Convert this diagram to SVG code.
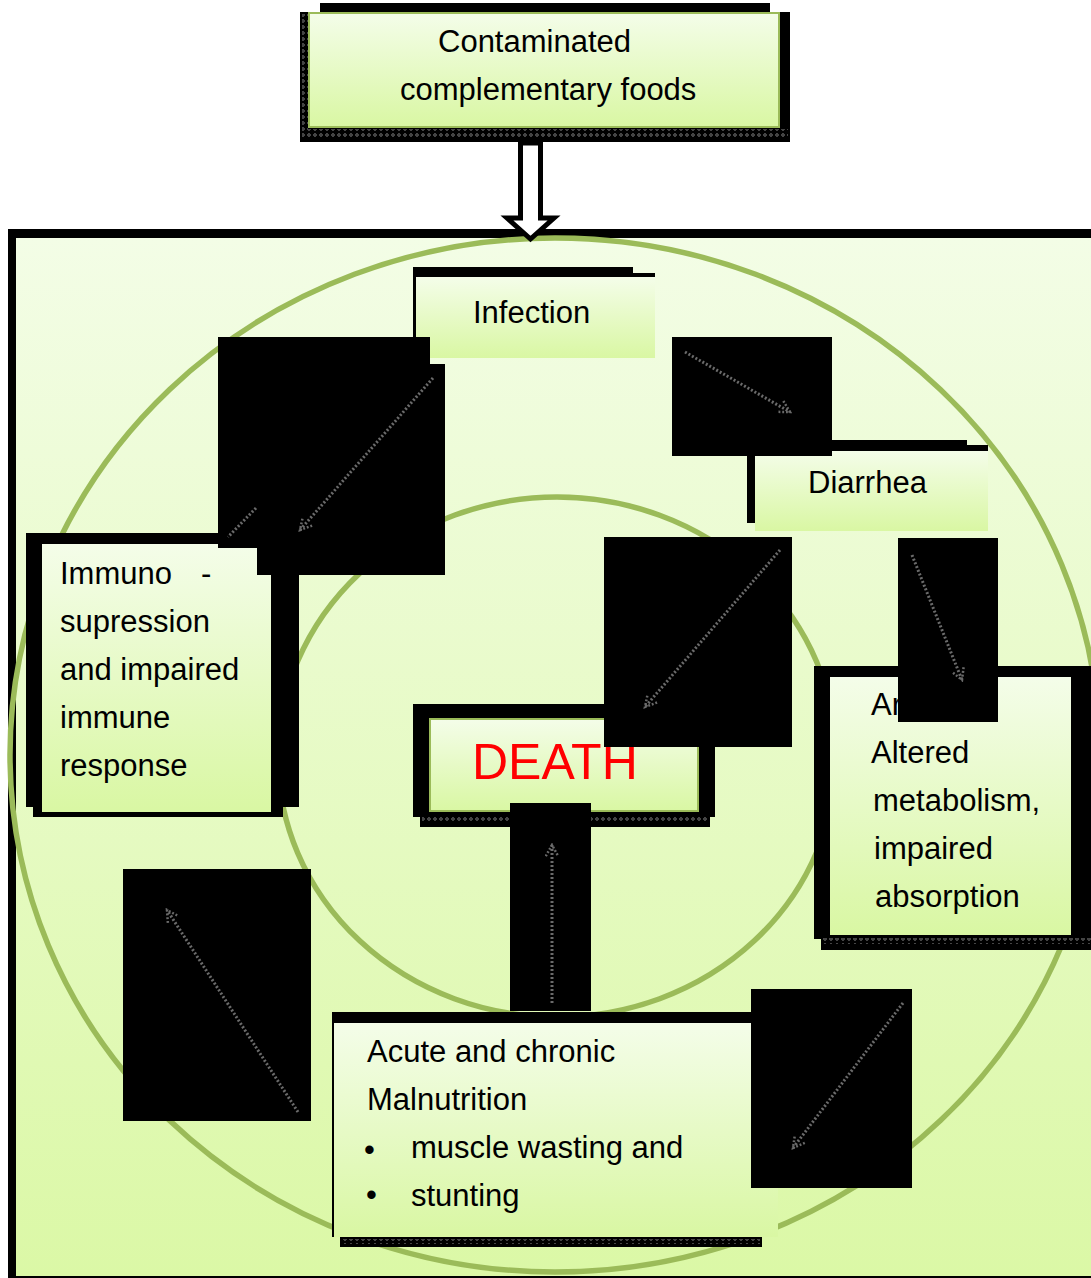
<svg xmlns="http://www.w3.org/2000/svg" width="1091" height="1278" viewBox="0 0 1091 1278">
<defs>
<linearGradient id="g" x1="0" y1="0" x2="0" y2="1">
<stop offset="0" stop-color="#f4fde9"/>
<stop offset="1" stop-color="#d9f7a3"/>
</linearGradient>
<linearGradient id="gbg" x1="0" y1="0" x2="0" y2="1">
<stop offset="0" stop-color="#f3fde6"/>
<stop offset="1" stop-color="#dbf8a6"/>
</linearGradient>
<pattern id="dots" width="6" height="6" patternUnits="userSpaceOnUse">
<rect width="6" height="6" fill="#000"/>
<circle cx="3" cy="3" r="1.3" fill="none" stroke="#8a8a8a" stroke-width="0.8"/>
</pattern>
<marker id="ah" viewBox="0 0 12 12" refX="10" refY="6" markerWidth="5" markerHeight="5" orient="auto" markerUnits="strokeWidth">
<path d="M1,1 L10,6 L1,11" fill="none" stroke="#6a6a6a" stroke-width="2" stroke-dasharray="1.5 1.5"/>
</marker>
<style>
.t{font-family:"Liberation Sans",Arial,sans-serif;font-size:31px;fill:#000}
.blk{fill:#000}
.box{fill:url(#g)}
.bord{fill:url(#g);stroke:#9bbb59;stroke-width:2}
.ring{fill:none;stroke:#9bbb59;stroke-width:5.5}
.dl{fill:none;stroke:#6a6a6a;stroke-width:3;stroke-dasharray:2 2}
</style>
</defs>

<g id="container">
<rect x="8" y="229" width="1083" height="1049" class="blk"/>
<rect x="16" y="238" width="1075" height="1038" fill="url(#gbg)"/>
<ellipse cx="555" cy="755" rx="545" ry="517" class="ring"/>
<ellipse cx="557" cy="757" rx="279" ry="260" class="ring"/>
</g>

<g id="node-contaminated">
<rect x="320" y="3" width="450" height="12" class="blk"/>
<rect x="300" y="12" width="490" height="130" class="blk"/>
<rect x="302" y="14" width="6" height="118" fill="url(#dots)"/>
<rect x="302" y="129" width="486" height="8" fill="url(#dots)"/>
<rect x="309" y="13" width="470" height="114" class="bord"/>
<text class="t" x="438" y="52">Contaminated</text>
<text class="t" x="400" y="100">complementary foods</text>
</g>

<g id="node-infection">
<rect x="413" y="267" width="220" height="10" class="blk"/>
<rect x="413" y="273" width="242" height="5" class="blk"/>
<rect x="413" y="267" width="3" height="70" class="blk"/>
<rect x="416" y="277" width="239" height="81" class="box"/>
<text class="t" x="473" y="323">Infection</text>
</g>

<g id="node-diarrhea">
<rect x="747" y="440" width="220" height="6" class="blk"/>
<rect x="747" y="445" width="241" height="6" class="blk"/>
<rect x="747" y="440" width="8" height="83" class="blk"/>
<rect x="755" y="451" width="233" height="80" class="box"/>
<text class="t" x="808" y="493">Diarrhea</text>
</g>

<g id="node-immuno">
<rect x="26" y="533" width="273" height="274" class="blk"/>
<rect x="33" y="540" width="250" height="277" class="blk"/>
<rect x="42" y="544" width="229" height="268" class="box"/>
<text class="t" x="60" y="584">Immuno<tspan x="201">-</tspan></text>
<text class="t" x="60" y="632">supression</text>
<text class="t" x="60" y="680">and impaired</text>
<text class="t" x="60" y="728">immune</text>
<text class="t" x="60" y="776">response</text>
</g>

<g id="node-altered">
<rect x="814" y="666" width="277" height="273" class="blk"/>
<rect x="821" y="935" width="270" height="15" class="blk"/>
<rect x="823" y="938" width="268" height="6" fill="url(#dots)"/>
<rect x="830" y="677" width="241" height="258" class="box"/>
<text class="t" x="871" y="715">Ar</text>
<text class="t" x="871" y="763">Altered</text>
<text class="t" x="873" y="811">metabolism,</text>
<text class="t" x="874" y="859">impaired</text>
<text class="t" x="875" y="907">absorption</text>
</g>

<g id="node-death">
<rect x="413" y="704" width="302" height="113" class="blk"/>
<rect x="420" y="815" width="290" height="12" class="blk"/>
<rect x="422" y="817" width="286" height="6" fill="url(#dots)"/>
<rect x="430" y="719" width="268" height="92" class="bord"/>
<text x="472" y="779" font-family="Liberation Sans, Arial, sans-serif" font-size="50" fill="#ff0000">DEATH</text>
</g>

<g id="node-malnutrition">
<rect x="332" y="1012" width="420" height="11" class="blk"/>
<rect x="332" y="1012" width="2" height="225" class="blk"/>
<rect x="334" y="1023" width="444" height="214" class="box"/>
<rect x="340" y="1237" width="422" height="10" class="blk"/>
<rect x="342" y="1239" width="418" height="5" fill="url(#dots)"/>
<text class="t" x="367" y="1062">Acute and chronic</text>
<text class="t" x="367" y="1110">Malnutrition</text>
<text class="t" x="364" y="1160">•</text>
<text class="t" x="411" y="1158">muscle wasting and</text>
<text class="t" x="366" y="1205" font-size="24">•</text>
<text class="t" x="411" y="1206">stunting</text>
</g>

<g id="connectors">
<path d="M520.5,143 L540.5,143 L540.5,218 L554,218 L530.5,239 L507,218 L520.5,218 Z" fill="#fff" stroke="#000" stroke-width="5" stroke-linejoin="miter"/>
<rect x="218" y="337" width="212" height="211" class="blk"/>
<rect x="257" y="364" width="188" height="211" class="blk"/>
<line x1="433" y1="378" x2="300" y2="530" class="dl" marker-end="url(#ah)"/>
<line x1="256" y1="508" x2="228" y2="537" class="dl"/>
<rect x="672" y="337" width="160" height="119" class="blk"/>
<line x1="685" y1="352" x2="790" y2="412" class="dl" marker-end="url(#ah)"/>
<rect x="604" y="537" width="188" height="210" class="blk"/>
<line x1="780" y1="550" x2="645" y2="707" class="dl" marker-end="url(#ah)"/>
<rect x="898" y="538" width="100" height="184" class="blk"/>
<line x1="912" y1="555" x2="962" y2="680" class="dl" marker-end="url(#ah)"/>
<rect x="510" y="803" width="81" height="208" class="blk"/>
<line x1="552" y1="1003" x2="552" y2="845" class="dl" marker-end="url(#ah)"/>
<rect x="751" y="989" width="161" height="199" class="blk"/>
<line x1="903" y1="1003" x2="793" y2="1148" class="dl" marker-end="url(#ah)"/>
<rect x="123" y="869" width="188" height="252" class="blk"/>
<line x1="298" y1="1112" x2="167" y2="910" class="dl" marker-end="url(#ah)"/>
</g>
</svg>
